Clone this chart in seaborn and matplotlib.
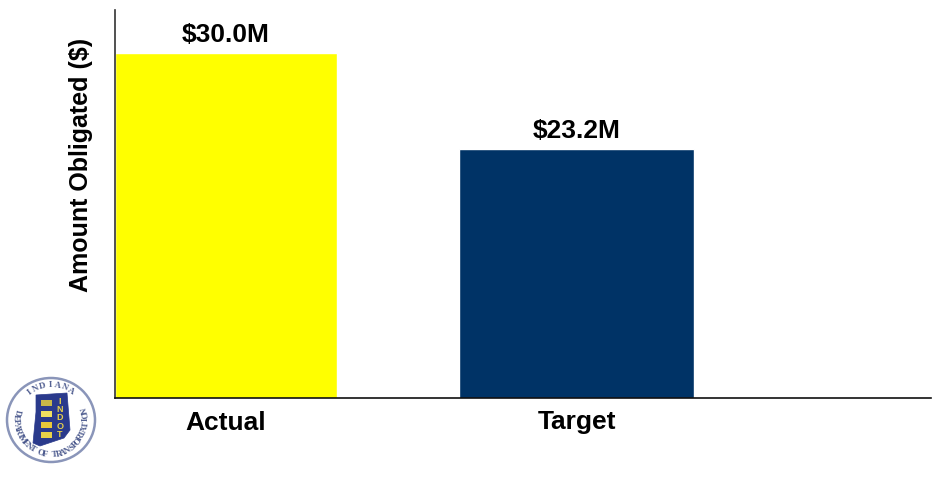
import numpy as np
import pandas as pd
import matplotlib
matplotlib.use('Agg')
import matplotlib.pyplot as plt
import seaborn as sns
from matplotlib.patches import Polygon, Rectangle, Ellipse

categories = ['Actual', 'Target', '']
amounts = [30.0, 23.2, np.nan]
value_labels = ['$30.0M', '$23.2M']
bar_colors = ['#FFFF00', '#003366', '#FFFFFF']
seal_top = 'INDIANA'
seal_bottom = 'DEPARTMENT OF TRANSPORTATION'
seal_strip = 'INDOT'

W, H = 940, 479

sns.set_theme(style='white')
plt.rcParams['font.family'] = ['Liberation Sans', 'DejaVu Sans']

df = pd.DataFrame({'category': categories, 'amount': amounts})

fig = plt.figure(figsize=(W / 100, H / 100), dpi=100, facecolor='white')
ax = fig.add_axes([115 / W, 1 - 398 / H, (931 - 115) / W, (398 - 10) / H])

sns.barplot(data=df, x='category', y='amount', hue='category', order=categories,
            hue_order=categories, palette=bar_colors, dodge=False, legend=False,
            errorbar=None, width=0.65, saturation=1, ax=ax)

# the two bars are not quite the same width in the original
bars = [p for p in ax.patches if p.get_height() > 0]
for bar, w, txt in zip(bars, [0.634, 0.67], value_labels):
    cx = bar.get_x() + bar.get_width() / 2
    bar.set_width(w)
    bar.set_x(cx - w / 2)
    ax.annotate(txt, (cx, bar.get_height()), xytext=(0, 4.3), textcoords='offset points',
                ha='center', va='bottom', fontsize=19, fontweight='bold', color='black')

ax.set_xlim(-0.316, 2.01)
ax.set_ylim(5.63, 33.03)
ax.set_yticks([])
ax.set_xticks([0, 1])
ax.set_xticklabels(categories[:2], fontsize=19, fontweight='bold', color='black')
ax.tick_params(axis='x', length=0, pad=9)
ax.set_xlabel('')
ax.set_ylabel('')
fig.text(81 / W, 1 - 165 / H, 'Amount Obligated ($)', rotation=90, ha='center', va='center',
         fontsize=18, fontweight='bold', color='black')

sns.despine(ax=ax)
ax.spines['left'].set_color('#333333')
ax.spines['bottom'].set_color('#111111')
ax.spines['left'].set_linewidth(1.2)
ax.spines['bottom'].set_linewidth(1.2)

# INDOT seal, bottom left
logo = fig.add_axes([0, 1 - 474 / H, 104 / W, 104 / H])
logo.set_xlim(0, 104)
logo.set_ylim(104, 0)
logo.axis('off')
cx, cy = 51, 50
ring = '#6D7BA8'
logo.add_patch(Ellipse((cx, cy), 88, 84, fc='white', ec=ring, lw=1.8, alpha=0.8))


def ring_text(text, start, end, radius, bottom=False):
    for ch, ang in zip(text, np.linspace(start, end, len(text))):
        x = cx + radius * np.cos(np.radians(ang))
        y = cy - radius * np.sin(np.radians(ang))
        rot = ang + 90 if bottom else ang - 90
        logo.text(x, y, ch, rotation=rot, ha='center', va='center', fontsize=6.5,
                  family=['Liberation Serif', 'DejaVu Serif'], fontweight='bold',
                  color='#34447F', alpha=0.85)


ring_text(seal_top, 128, 55, 35)
ring_text(seal_bottom, 168, 376, 35, bottom=True)

state = [(36, 25), (67, 23), (70, 60), (64, 68), (52, 72), (40, 76), (33, 73), (36, 42)]
logo.add_patch(Polygon(state, closed=True, fc='#2A3A8C', ec='#2A3A8C', lw=0.5))
for i, ch in enumerate(seal_strip):
    logo.text(60, 31 + i * 8.4, ch, ha='center', va='center', fontsize=6.5, fontweight='bold', color='#E8D24A')
for y0, col in zip([30, 41, 52, 62], ['#C8B84A', '#F0E060', '#E8C83A', '#E8D24A']):
    logo.add_patch(Rectangle((41, y0), 11, 6, fc=col, ec='none'))

fig.savefig('out.png', dpi=100, facecolor='white')
